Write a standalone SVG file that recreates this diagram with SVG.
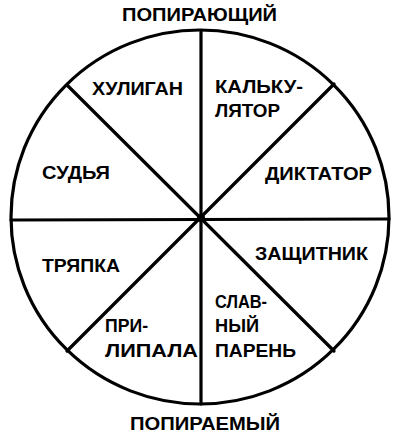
<svg xmlns="http://www.w3.org/2000/svg" width="400" height="437" viewBox="0 0 400 437">
<style>
.ln{stroke:#000;stroke-width:3.2;fill:none;stroke-linecap:round}
.t{font-family:"Liberation Sans",Arial,sans-serif;font-weight:bold;font-size:19px;fill:#000}
</style>
<rect width="400" height="437" fill="#fff"/>
<g id="connectors">
<ellipse class="ln" cx="200" cy="217" rx="189" ry="187" stroke-width="3.6"/>
<line class="ln" x1="201" y1="31" x2="201" y2="404"/>
<line class="ln" x1="11" y1="220" x2="389" y2="219"/>
<line class="ln" x1="67" y1="85" x2="334" y2="351"/>
<line class="ln" x1="334" y1="84" x2="67" y2="351"/>
<circle cx="201" cy="218" r="4" fill="#000"/>
</g>
<g id="top"><text class="t" x="122" y="21" textLength="155" lengthAdjust="spacingAndGlyphs">ПОПИРАЮЩИЙ</text></g>
<g id="bottom"><text class="t" x="130" y="430" textLength="150" lengthAdjust="spacingAndGlyphs">ПОПИРАЕМЫЙ</text></g>
<g id="huligan"><text class="t" x="92" y="95" textLength="91" lengthAdjust="spacingAndGlyphs">ХУЛИГАН</text></g>
<g id="kalkulyator"><text class="t" x="215" y="93" textLength="88" lengthAdjust="spacingAndGlyphs">КАЛЬКУ-</text><text class="t" x="215" y="117" textLength="65" lengthAdjust="spacingAndGlyphs">ЛЯТОР</text></g>
<g id="sudya"><text class="t" x="42" y="179" textLength="68" lengthAdjust="spacingAndGlyphs">СУДЬЯ</text></g>
<g id="diktator"><text class="t" x="265" y="180" textLength="107" lengthAdjust="spacingAndGlyphs">ДИКТАТОР</text></g>
<g id="tryapka"><text class="t" x="42" y="272" textLength="78" lengthAdjust="spacingAndGlyphs">ТРЯПКА</text></g>
<g id="zashchitnik"><text class="t" x="255" y="260" textLength="113" lengthAdjust="spacingAndGlyphs">ЗАЩИТНИК</text></g>
<g id="prilipala"><text class="t" x="105" y="332" textLength="43" lengthAdjust="spacingAndGlyphs">ПРИ-</text><text class="t" x="105" y="357" textLength="93" lengthAdjust="spacingAndGlyphs">ЛИПАЛА</text></g>
<g id="slavny"><text class="t" x="215" y="308" textLength="52" lengthAdjust="spacingAndGlyphs">СЛАВ-</text><text class="t" x="215" y="332" textLength="44" lengthAdjust="spacingAndGlyphs">НЫЙ</text><text class="t" x="215" y="357" textLength="81" lengthAdjust="spacingAndGlyphs">ПАРЕНЬ</text></g>
</svg>
